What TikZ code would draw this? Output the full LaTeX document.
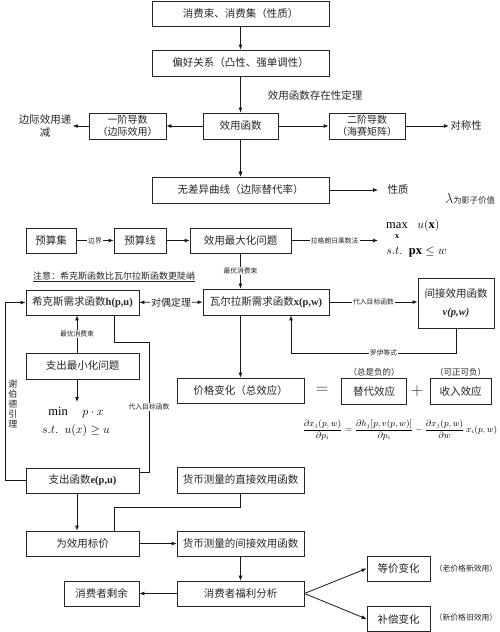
\documentclass[tikz,border=0pt]{standalone}
\usepackage{fontspec}
\usepackage{amsmath}
\setmainfont{Liberation Serif}
\newfontfamily\cjk{Noto Sans CJK SC}
\usetikzlibrary{arrows.meta}
\newcommand\fsz[2]{\fontsize{#1}{#2}\selectfont}
\begin{document}
\begin{tikzpicture}[x=1pt,y=-1pt,
  line width=0.8pt,
  box/.style={draw=black!85, line width=0.8pt, inner sep=0pt, align=center, text=black!85, font=\cjk\fsz{10.5}{13}},
  txt/.style={inner sep=0pt, align=center, text=black!85, font=\cjk\fsz{10.5}{12.5}},
  tiny/.style={inner sep=1pt, fill=white, text=black!85, font=\cjk\fsz{6.8}{8}},
  arr/.style={draw=black!90, -{Latex[length=5pt,width=4pt]}},
  arrb/.style={draw=black!90, {Latex[length=5pt,width=4pt]}-{Latex[length=5pt,width=4pt]}},
  ln/.style={draw=black!90}]
\useasboundingbox (0,0) rectangle (500,632);
\fill[white] (0,0) rectangle (500,632);

% top chain
\node[box, minimum width=177pt, minimum height=25pt] (b1) at (240.5,13.5) {消费束、消费集（性质）};
\node[box, minimum width=177pt, minimum height=26pt] (b2) at (240.5,63) {偏好关系（凸性、强单调性）};
\node[txt] (t1) at (315,95) {效用函数存在性定理};
\node[box, minimum width=75pt, minimum height=26pt] (uf) at (240.5,126) {效用函数};
\node[box, minimum width=77pt, minimum height=26pt, font=\cjk\fsz{10}{12.5}] (d1) at (127.5,126) {一阶导数\\（边际效用）};
\node[box, minimum width=76pt, minimum height=26pt, font=\cjk\fsz{10}{12.5}] (d2) at (367,126) {二阶导数\\（海赛矩阵）};
\node[txt, inner sep=1pt] (mu) at (45,126) {边际效用递\\减};
\node[txt, inner sep=1pt] (sym) at (466,126) {对称性};

\draw[arr] (b1) -- (b2);
\draw[arr] (b2) -- (uf);
\draw[arr] (uf) -- (d1);
\draw[arr] (d1) -- (mu.east |- d1.west);
\draw[arr] (uf) -- (d2);
\draw[arr] (d2) -- (sym);

\node[box, minimum width=177pt, minimum height=26pt] (idc) at (240.5,190) {无差异曲线（边际替代率）};
\node[txt] (xz) at (398,189.5) {性质};
\node[txt, font=\cjk\fsz{8.3}{10}] (lam) at (470,199) {{\fsz{14}{14}$\lambda$}为影子价值};
\draw[arr] (uf) -- (idc);
\draw[arr, shorten >=9pt] (idc) -- (xz.west |- idc.east);

% utility maximisation row
\node[box, minimum width=50pt, minimum height=25pt] (ys) at (51,240.5) {预算集};
\node[box, minimum width=52pt, minimum height=25pt] (yx) at (140,240.5) {预算线};
\node[box, minimum width=101pt, minimum height=25pt] (um) at (240.5,240.5) {效用最大化问题};
\node[inner sep=0pt, font=\fsz{12.5}{15}] (mxa) at (397,225.5) {$\max$};
\node[inner sep=0pt, font=\fsz{8}{9}] (mxb) at (397,237) {$\mathbf x$};
\node[inner sep=0pt, anchor=west, font=\fsz{12.5}{15}] (mxc) at (417,225.5) {$u(\mathbf{x})$};
\node[inner sep=0pt, anchor=west, font=\fsz{12.5}{15}] (mx2) at (386,252)
  {$s.t.\ \ \mathbf{px}\le w$};
\coordinate (mxin) at (378,240.5);
\draw[arr] (ys) -- node[tiny]{边界} (yx);
\draw[arr] (yx) -- (um);
\draw[arr] (um) -- node[tiny]{拉格朗日乘数法} (mxin);
\draw[arr] (uf) -- (idc);

\node[txt, font=\cjk\fsz{9}{11}] (note) at (114,277) {\underline{注意：希克斯函数比瓦尔拉斯函数更陡峭}};

% demand functions
\node[box, minimum width=113pt, minimum height=25pt] (hk) at (82.5,302.5) {希克斯需求函数{\rmfamily\bfseries h(p,u)}};
\node[box, minimum width=126pt, minimum height=26pt] (wr) at (266,302) {瓦尔拉斯需求函数{\rmfamily\bfseries x(p,w)}};
\node[box, minimum width=76pt, minimum height=50pt, font=\cjk\fsz{10.5}{18}] (iv) at (456,303) {间接效用函数\\{\rmfamily\bfseries\itshape v(p,w)}};
\draw[arrb] (hk) -- node[inner sep=1pt, fill=white, text=black!85, font=\cjk\fsz{10}{12}]{对偶定理} (wr);
\draw[arr] (um) -- node[tiny]{最优消费束} (um |- wr.north);
\draw[arr] (wr.east) -- node[tiny]{代入目标函数} (wr.east -| iv.west);
\coordinate (roy) at (291,353);
\draw[arr] (iv.south) |- node[pos=0.72, tiny]{罗伊等式} (roy) -- (roy |- wr.south);

% expenditure minimisation
\node[box, minimum width=113pt, minimum height=26pt] (em) at (82.5,366) {支出最小化问题};
\coordinate (mnt) at (77,402);
\node[inner sep=0pt, align=left, font=\fsz{12.5}{15}] (mn) at (76,422)
  {\ \ $\min\quad p\cdot x$\\[3pt] $s.t.\ \ u(x)\ge u$};
\draw[arr] (em.north -| mnt) -- node[tiny]{最优消费束} (hk.south -| mnt);
\draw[arr] (em.south -| mnt) -- (mnt);

\node[box, minimum width=113pt, minimum height=25pt] (ef) at (82.5,480.5) {支出函数{\rmfamily\bfseries e(p,u)}};
\coordinate (c1) at (114,342);
\coordinate (c2) at (149,342);
\coordinate (c2b) at (149,472);
\draw[ln] (hk.south -| c1) -- (c1) -- (c2) -- node[tiny]{代入目标函数} (c2b) -- (c2b -| ef.east);
\coordinate (c3) at (5,480.5);
\draw[arr] (ef.west) -- (c3) -- (c3 |- hk.west) -- (hk.west);
\node[txt, font=\cjk\fsz{9}{9.8}] (xb) at (13,404) {谢\\伯\\德\\引\\理};

% Slutsky
\node[box, minimum width=127pt, minimum height=25pt] (pc) at (240.5,390.5) {价格变化（总效应）};
\draw[arr] (pc.north |- wr.south) -- (pc.north);
\node[inner sep=0pt, text=black!85, font=\fsz{18}{18}] (eqs) at (322,390) {$=$};
\node[box, minimum width=65pt, minimum height=26pt] (sub) at (374,391.5) {替代效应};
\node[inner sep=0pt, text=black!85, font=\fsz{18}{18}] (pls) at (417,391) {$+$};
\node[box, minimum width=61pt, minimum height=26pt] (inc) at (460.5,391.5) {收入效应};
\node[txt, font=\cjk\fsz{8.5}{10}] (neg) at (374,372) {（总是负的）};
\node[txt, font=\cjk\fsz{8.5}{10}] (pn) at (460.5,372) {（可正可负）};
\node[inner sep=0pt, font=\fsz{8.8}{10}] (fm) at (400,430)
  {$\displaystyle\frac{\partial x_j(p,w)}{\partial p_i}=\frac{\partial h_j[p,v(p,w)]}{\partial p_i}-\frac{\partial x_j(p,w)}{\partial w}\,x_i(p,w)$};

% money metric
\node[box, minimum width=127pt, minimum height=26pt] (dd) at (240.5,480) {货币测量的直接效用函数};
\node[box, minimum width=113pt, minimum height=25pt] (bj) at (82.5,543.5) {为效用标价};
\node[box, minimum width=127pt, minimum height=25pt] (ij) at (240.5,543.5) {货币测量的间接效用函数};
\draw[arr] (ef.south -| mnt) -- (bj.north -| mnt);
\coordinate (c5) at (114,507);
\draw[ln] (dd.south) -- (dd.south |- c5) -- (c5) -- (c5 |- bj.north);
\draw[arr] (bj) -- (ij);

% welfare
\node[box, minimum width=127pt, minimum height=25pt] (fl) at (240.5,593.5) {消费者福利分析};
\node[box, minimum width=75pt, minimum height=25pt] (cs) at (101.5,593.5) {消费者剩余};
\node[box, minimum width=63pt, minimum height=25pt] (eq) at (398.5,568.5) {等价变化};
\node[box, minimum width=63pt, minimum height=25pt] (cv) at (398.5,619) {补偿变化};
\node[txt, font=\cjk\fsz{7.8}{9}] (eql) at (466,569) {（老价格新效用）};
\node[txt, font=\cjk\fsz{7.8}{9}] (cvl) at (466,618) {（新价格旧效用）};
\draw[arr] (ij) -- (fl);
\draw[arr] (fl) -- (cs);
\draw[arr] (fl.east) -- (eq.west);
\draw[arr] (fl.east) -- (cv.west);
\end{tikzpicture}
\end{document}
